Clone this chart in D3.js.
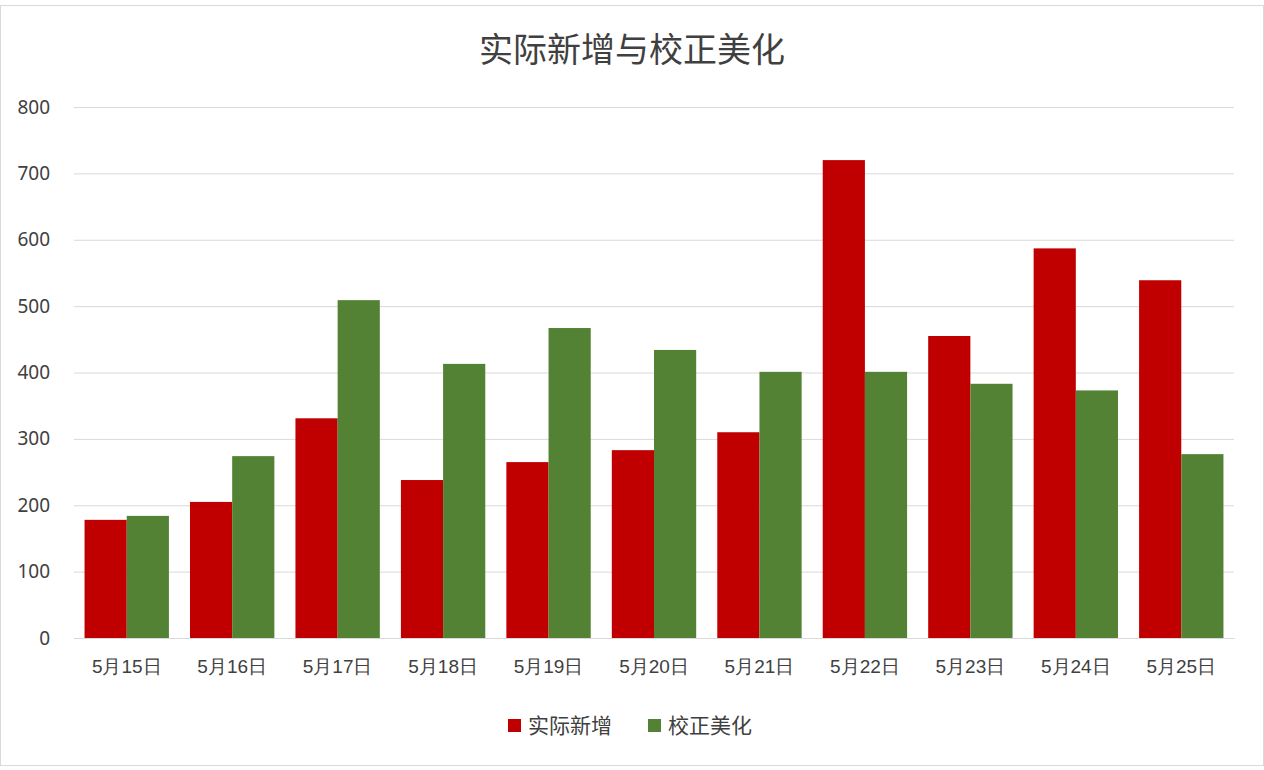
<!DOCTYPE html>
<html><head><meta charset="utf-8">
<script src="https://cdn.jsdelivr.net/npm/d3@7"></script>
<style>body{margin:0;background:#fff}svg{font-family:"Noto Sans CJK SC","Noto Sans",sans-serif}</style>
</head><body><svg id="c" width="1264" height="770"></svg>
<script>
const categories=["5月15日","5月16日","5月17日","5月18日","5月19日","5月20日","5月21日","5月22日","5月23日","5月24日","5月25日"];
const actual=[178,205,331,238,265,283,310,720,455,587,539];
const corrected=[184,274,509,413,467,434,401,401,383,373,277];
const seriesNames=["实际新增","校正美化"];
const colors=["#c00000","#548235"];
const yTicks=[0,100,200,300,400,500,600,700,800];

const svg=d3.select("#c");
svg.append("rect").attr("x",0.5).attr("y",5.5).attr("width",1263).attr("height",760).attr("fill","#fff").attr("stroke","#d9d9d9");
const x=d3.scaleBand().domain(categories).range([74,1234]).paddingInner(0.2).paddingOuter(0.1);
const y=d3.scaleLinear().domain([0,800]).range([638,107]);
const x1=d3.scaleBand().domain([0,1]).range([0,x.bandwidth()]);

svg.append("text").attr("x",632).attr("y",62).attr("text-anchor","middle").attr("font-size",34).attr("fill","#404040").text("实际新增与校正美化");

const ya=svg.append("g").attr("transform","translate(74,0)").call(d3.axisLeft(y).tickValues(yTicks).tickSize(-1160).tickPadding(24));
ya.select(".domain").remove();
ya.selectAll("line").attr("stroke","#d9d9d9");
ya.selectAll("text").attr("font-size",19).attr("fill","#404040").attr("font-family","Noto Sans, sans-serif");

const g=svg.append("g");
categories.forEach((c,i)=>{
  [actual[i],corrected[i]].forEach((v,j)=>{
    g.append("rect").attr("x",x(c)+x1(j)).attr("y",y(v)).attr("width",x1.bandwidth()).attr("height",y(0)-y(v)).attr("fill",colors[j]);
  });
});

const xa=svg.append("g").attr("transform","translate(0,638)").call(d3.axisBottom(x).tickSize(0).tickPadding(22));
xa.select(".domain").attr("stroke","#d9d9d9");
xa.selectAll("text").attr("font-size",19).attr("fill","#404040");

const lg=svg.append("g");
const lx=[508,648];
seriesNames.forEach((n,i)=>{
  lg.append("rect").attr("x",lx[i]).attr("y",719).attr("width",13).attr("height",13).attr("fill",colors[i]);
  lg.append("text").attr("x",lx[i]+20).attr("y",733).attr("font-size",21).attr("fill","#404040").text(n);
});
</script></body></html>
